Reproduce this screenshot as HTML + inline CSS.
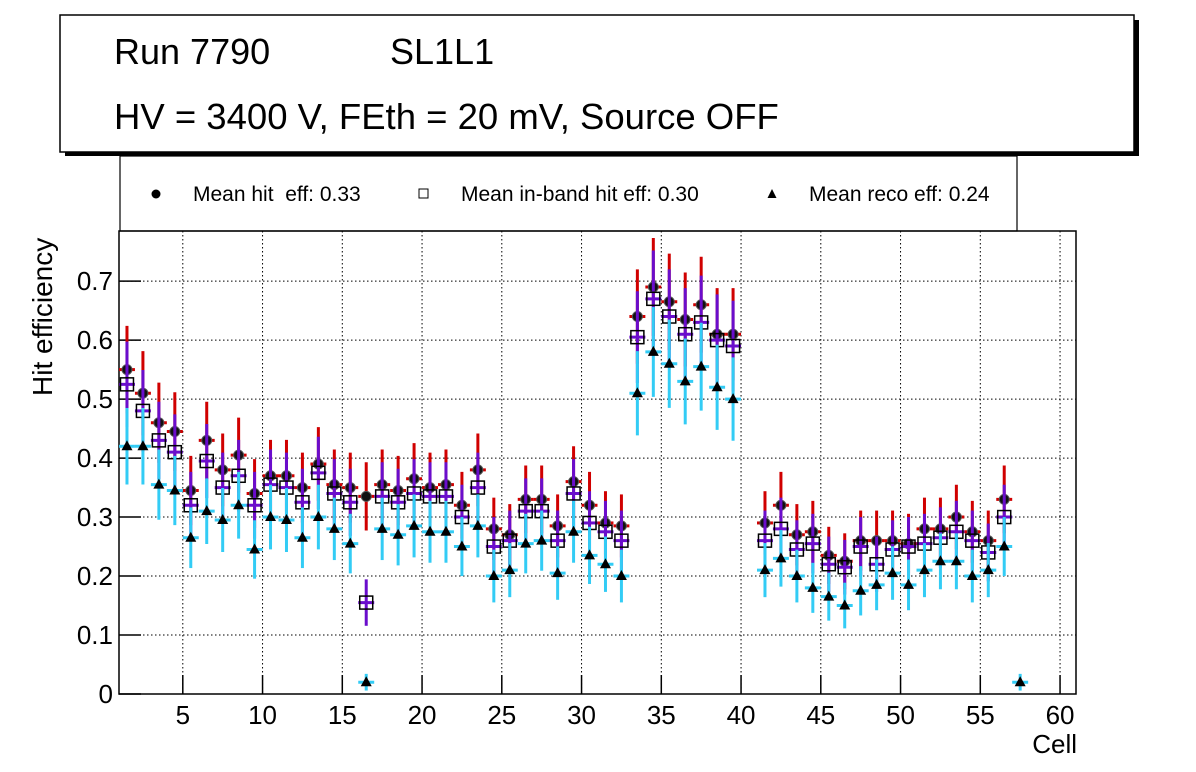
<!DOCTYPE html>
<html><head><meta charset="utf-8"><style>
html,body{margin:0;padding:0;background:#fff;}
svg{display:block;font-family:"Liberation Sans",Arial,sans-serif;}
</style></head><body>
<svg id="chart" width="1196" height="772" viewBox="0 0 1196 772">
<rect x="0" y="0" width="1196" height="772" fill="#fff"/>
<g>
<rect x="65" y="20" width="1074" height="136" fill="#000"/>
<rect x="60" y="15" width="1074" height="137" fill="#fff" stroke="#000" stroke-width="1.5"/>
<text x="114" y="64" font-size="36">Run 7790</text>
<text x="390" y="64" font-size="36">SL1L1</text>
<text x="114" y="129" font-size="36.5">HV = 3400 V, FEth = 20 mV, Source OFF</text>
</g>
<g>
<rect x="120" y="156" width="897" height="75" fill="#fff" stroke="#000" stroke-width="1.2"/>
<circle cx="156" cy="194" r="4.5" fill="#000"/>
<text x="193" y="201" font-size="21" xml:space="preserve" style="white-space:pre">Mean hit  eff: 0.33</text>
<rect x="419" y="189" width="9" height="9" fill="#fff" stroke="#000" stroke-width="1"/>
<text x="461" y="201" font-size="21">Mean in-band hit eff: 0.30</text>
<polygon points="772,189 767.5,198 776.5,198" fill="#000"/>
<text x="809" y="201" font-size="21">Mean reco eff: 0.24</text>
</g>
<g id="plot"></g>
<text transform="translate(52,396) rotate(-90)" font-size="28">Hit efficiency</text>
<text x="1077" y="753" font-size="26" text-anchor="end">Cell</text>
</svg>
<script>
const cells = [];
for (let i = 1; i <= 57; i++) cells.push(i);
const hitEff = [0.55,0.51,0.46,0.445,0.345,0.43,0.38,0.405,0.34,0.37,0.37,0.35,0.39,0.355,0.35,0.335,0.355,0.345,0.365,0.35,0.355,0.32,0.38,0.28,0.27,0.33,0.33,0.285,0.36,0.32,0.29,0.285,0.64,0.69,0.665,0.635,0.66,0.61,0.61,null,0.29,0.32,0.27,0.275,0.235,0.225,0.26,0.26,0.26,0.255,0.28,0.28,0.30,0.275,0.26,0.33,null];
const inbandEff = [0.525,0.48,0.43,0.41,0.32,0.395,0.35,0.37,0.32,0.355,0.35,0.325,0.375,0.34,0.325,0.155,0.335,0.325,0.34,0.335,0.335,0.30,0.35,0.25,0.26,0.31,0.31,0.26,0.34,0.29,0.275,0.26,0.605,0.67,0.64,0.61,0.63,0.60,0.59,null,0.26,0.28,0.245,0.255,0.22,0.215,0.25,0.22,0.245,0.25,0.255,0.265,0.275,0.26,0.24,0.30,null];
const recoEff = [0.42,0.42,0.355,0.345,0.265,0.31,0.295,0.32,0.245,0.30,0.295,0.265,0.30,0.28,0.255,0.02,0.28,0.27,0.285,0.275,0.275,0.25,0.285,0.20,0.21,0.255,0.26,0.205,0.275,0.235,0.22,0.20,0.51,0.58,0.56,0.53,0.555,0.52,0.50,null,0.21,0.23,0.20,0.18,0.165,0.15,0.175,0.185,0.205,0.185,0.21,0.225,0.225,0.20,0.21,0.25,0.02];
const xTicks = [5,10,15,20,25,30,35,40,45,50,55,60];
const yTicks = [0,0.1,0.2,0.3,0.4,0.5,0.6,0.7];
const yTickLabels = ["0","0.1","0.2","0.3","0.4","0.5","0.6","0.7"];

const L=119,R=1076,T=231,B=694,XMIN=1,XMAX=61,YMIN=0,YMAX=0.785;
const xs=v=>L+(v-XMIN)/(XMAX-XMIN)*(R-L);
const ys=v=>B-(v-YMIN)/(YMAX-YMIN)*(B-T);
const NS="http://www.w3.org/2000/svg";
const plot=document.getElementById('plot');
function mk(tag,attrs,parent){const e=document.createElementNS(NS,tag);for(const k in attrs)e.setAttribute(k,attrs[k]);(parent||plot).appendChild(e);return e;}

xTicks.forEach(t=>{const g=mk('line',{x1:xs(t),x2:xs(t),y1:T,y2:B,stroke:'#000','stroke-width':1,'stroke-dasharray':'1.5,2.5'});

});
yTicks.forEach(t=>{if(t===0)return;const g=mk('line',{x1:L,x2:R,y1:ys(t),y2:ys(t),stroke:'#000','stroke-width':1,'stroke-dasharray':'1.5,2.5'});

});
const fr=mk('rect',{x:L,y:T,width:R-L,height:B-T,fill:'none',stroke:'#000','stroke-width':1.5});


xTicks.forEach(t=>{const l=mk('line',{x1:xs(t),x2:xs(t),y1:B,y2:B-19,stroke:'#000','stroke-width':1.5});


const tx=mk('text',{x:xs(t),y:724,'font-size':26,'text-anchor':'middle'});tx.textContent=t;

});
yTicks.forEach((t,i)=>{const l=mk('line',{x1:L,x2:L+22,y1:ys(t),y2:ys(t),stroke:'#000','stroke-width':1.5});


const tx=mk('text',{x:113,y:ys(t)+9,'font-size':26,'text-anchor':'end'});tx.textContent=yTickLabels[i];

});

function series(vals,color,marker,name){
  const g=mk('g',{});
  
  
  vals.forEach((v,i)=>{
    if(v===null)return;
    const c=cells[i]+0.5, x=xs(c), y=ys(v);
    const e=Math.sqrt(v)*0.1;
    const y1=Math.min(B,ys(v-e)), y2=ys(v+e);
    mk('line',{x1:x,x2:x,y1:y1,y2:y2,stroke:color,'stroke-width':3},g);
    mk('line',{x1:xs(c-0.5),x2:xs(c+0.5),y1:y,y2:y,stroke:color,'stroke-width':3},g);
    let m;
    if(marker==='circle') m=mk('circle',{cx:x,cy:y,r:5,fill:'#111',stroke:'#555','stroke-width':1},g);
    else if(marker==='square') m=mk('rect',{x:x-6.5,y:y-6.5,width:13,height:13,fill:'none',stroke:'#000','stroke-width':1.5},g);
    else m=mk('polygon',{points:`${x},${y-6} ${x-5.5},${y+4} ${x+5.5},${y+4}`,fill:'#000'},g);
    
    
  });
}
series(hitEff,'#d00000','circle','hit-eff');
series(inbandEff,'#6a0dcc','square','inband-eff');
series(recoEff,'#33ccf5','triangle','reco-eff');
</script>
</body></html>
